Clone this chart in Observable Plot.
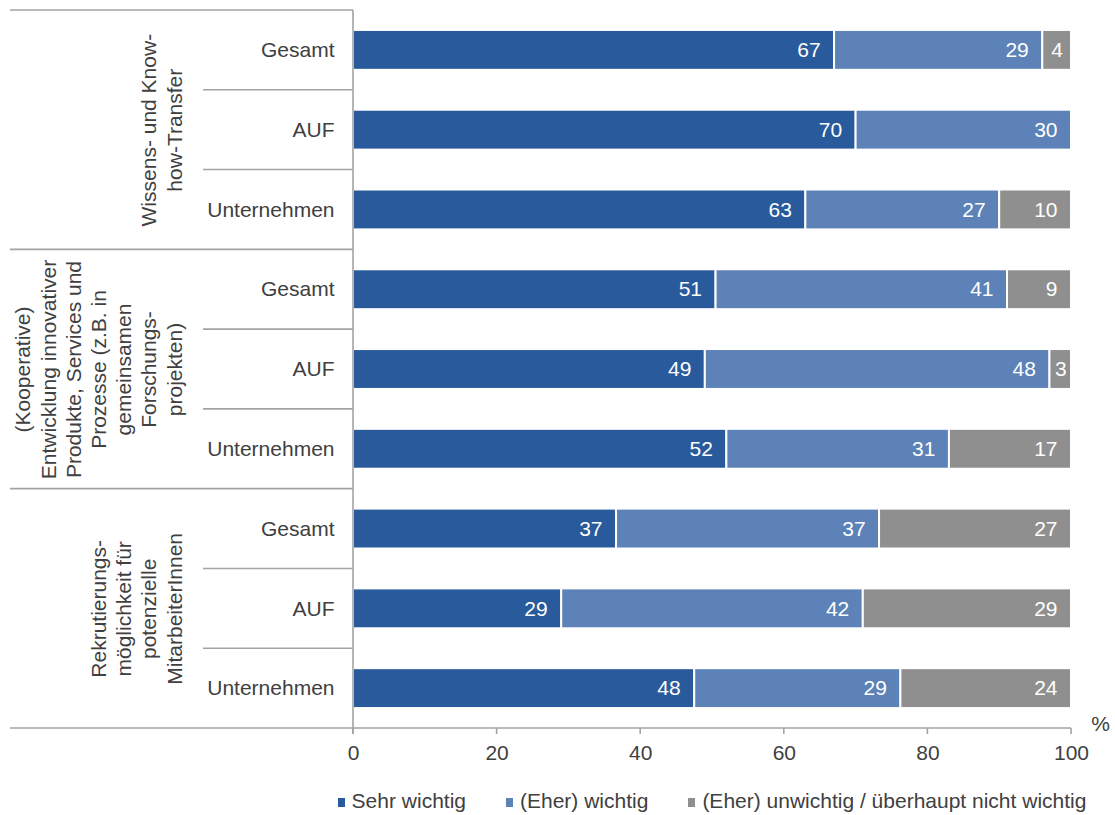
<!DOCTYPE html>
<html lang="de">
<head>
<meta charset="utf-8">
<script src="https://cdn.jsdelivr.net/npm/d3@7"></script>
<script src="https://cdn.jsdelivr.net/npm/@observablehq/plot@0.6"></script>
<style>
  html, body { margin: 0; padding: 0; background: #fff; }
  #wrap { position: relative; width: 1115px; height: 815px; font-family: "Liberation Sans", Arial, sans-serif; color: #404040; }
  #legend { position: absolute; left: 353px; width: 718px; top: 789px; display: flex; justify-content: center; gap: 40px; font-size: 21px; line-height: 24px; white-space: nowrap; }
  #legend .item { display: flex; align-items: center; }
  #legend .swatch { width: 7px; height: 9px; margin-right: 7px; margin-top: 3px; }
</style>
</head>
<body>
<div id="wrap">
  <div id="chart"></div>
  <div id="legend"></div>
</div>
<script>
// Answer categories, in stacking order
const series = ["Sehr wichtig", "(Eher) wichtig", "(Eher) unwichtig / überhaupt nicht wichtig"];
const colors = ["#295A9B", "#5C82B8", "#8F8F8F"];

// Topic groups (rotated labels) and respondent subgroups
const groups = [
  "Wissens- und Know-\nhow-Transfer",
  "(Kooperative)\nEntwicklung innovativer\nProdukte, Services und\nProzesse (z.B. in\ngemeinsamen\nForschungs-\nprojekten)",
  "Rekrutierungs-\nmöglichkeit für\npotenzielle\nMitarbeiterInnen"
];
const subgroups = ["Gesamt", "AUF", "Unternehmen"];

// Shares in % per group × subgroup: [Sehr wichtig, (Eher) wichtig, (Eher) unwichtig]
const wissenstransfer = [[67, 29, 4], [70, 30, 0], [63, 27, 10]];
const entwicklung     = [[51, 41, 9], [49, 48, 3], [52, 31, 17]];
const rekrutierung    = [[37, 37, 27], [29, 42, 29], [48, 29, 24]];

const xTicks = [0, 20, 40, 60, 80, 100];

// Long table for the stacked bars
const groupValues = [wissenstransfer, entwicklung, rekrutierung];
const rows = [];
const table = [];
groups.forEach((g, gi) => {
  subgroups.forEach((s, si) => {
    const key = `${gi}|${s}`;
    rows.push({key, group: gi, sub: s});
    groupValues[gi][si].forEach((v, k) => {
      if (v > 0) table.push({key, group: gi, sub: s, series: series[k], value: v});
    });
  });
});
const groupAnchors = groups.map((label, gi) => ({label, key: `${gi}|${subgroups[1]}`}));

const LINE = "#a3a3a3";

// Multi-level category axis: frame lines, group/row separators, x baseline and ticks
function categoryAxis(index, scales, values, dims) {
  const {x, y} = scales;
  const {height, marginTop, marginBottom, marginLeft} = dims;
  const half = (y.step() - y.bandwidth()) / 2;
  const top = marginTop, bottom = height - marginBottom;
  const g = d3.create("svg:g").attr("stroke", LINE).attr("stroke-width", 1.6).attr("fill", "none");
  const left = 10, rowLeft = 203;
  g.append("line").attr("x1", left).attr("x2", marginLeft).attr("y1", top).attr("y2", top);
  rows.forEach((r, i) => {
    if (i === 0) return;
    const yy = y(r.key) - half;
    const x0 = r.group !== rows[i - 1].group ? left : rowLeft;
    g.append("line").attr("x1", x0).attr("x2", marginLeft).attr("y1", yy).attr("y2", yy);
  });
  g.append("line").attr("x1", left).attr("x2", x(100)).attr("y1", bottom).attr("y2", bottom);
  g.append("line").attr("x1", marginLeft).attr("x2", marginLeft).attr("y1", top).attr("y2", bottom + 6);
  xTicks.forEach(t => {
    g.append("line").attr("x1", x(t)).attr("x2", x(t)).attr("y1", bottom).attr("y2", bottom + 6);
  });
  return g.node();
}

const stackOpts = {x: "value", y: "key", z: "series", offset: "normalize", order: series};

const chart = Plot.plot({
  width: 1115,
  height: 775,
  marginTop: 10,
  marginBottom: 47,
  marginLeft: 353,
  marginRight: 44,
  style: {fontFamily: "'Liberation Sans', Arial, sans-serif", fontSize: "21px", color: "#404040", background: "white"},
  x: {percent: true, domain: [0, 100], ticks: xTicks, tickSize: 0, tickPadding: 17, label: null},
  y: {domain: rows.map(r => r.key), paddingInner: 0.5, paddingOuter: 0.25, round: false, axis: null},
  color: {domain: series, range: colors},
  marks: [
    Plot.barX(table, Plot.stackX({...stackOpts, fill: "series", stroke: "white", strokeWidth: 2})),
    Plot.text(table, Plot.stackX2({...stackOpts, text: d => d.value >= 5 ? String(d.value) : "", textAnchor: "end", dx: -14, fill: "white", fontSize: 21})),
    Plot.text(table, Plot.stackX({...stackOpts, text: d => d.value < 5 ? String(d.value) : "", fill: "white", fontSize: 21})),
    Plot.text(rows, {y: "key", text: "sub", frameAnchor: "left", textAnchor: "end", dx: -19, fill: "#404040", fontSize: 21}),
    Plot.text(groupAnchors, {y: "key", text: "label", frameAnchor: "left", dx: -172, rotate: -90, textAnchor: "middle", lineAnchor: "bottom", lineHeight: 1.2, fill: "#404040", fontSize: 21}),
    Plot.text(["%"], {text: d => d, frameAnchor: "bottom-right", textAnchor: "middle", lineAnchor: "middle", dx: 29, dy: -4, fill: "#404040", fontSize: 21}),
    categoryAxis
  ]
});
document.getElementById("chart").append(chart);

// Legend below the plot
const legend = d3.select("#legend");
series.forEach((s, i) => {
  const item = legend.append("div").attr("class", "item");
  item.append("div").attr("class", "swatch").style("background", colors[i]);
  item.append("span").text(s);
});
</script>
</body>
</html>
